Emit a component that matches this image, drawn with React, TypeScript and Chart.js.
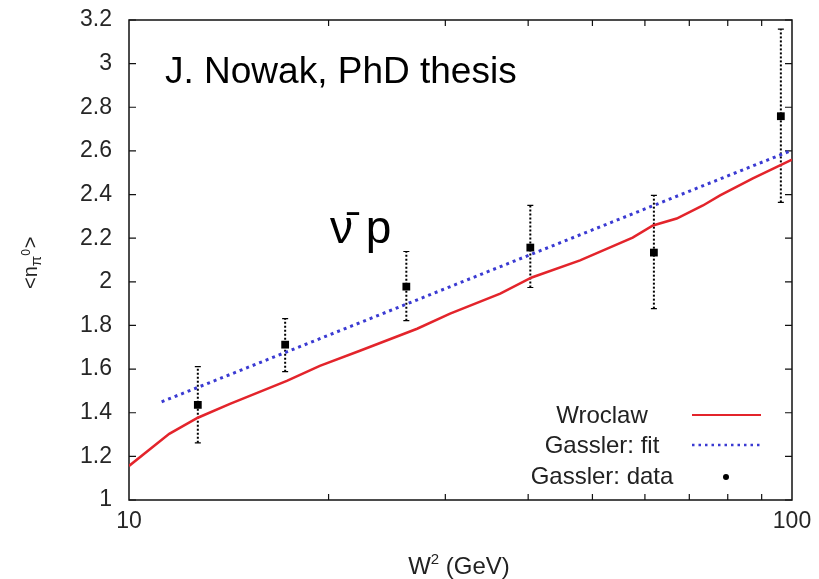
import React, { useEffect, useRef } from "react";
import { Chart, registerables } from "chart.js";
Chart.register(...registerables);

// Wroclaw model curve
const wroclawX = [10, 11.5, 12.7, 14.2, 17.3, 19.4, 22.3, 27.2, 30.5, 36.3, 40.5, 47.9, 57.5, 61.7, 67.0, 73.4, 77.9, 87.3, 100];
const wroclawY = [1.156, 1.303, 1.377, 1.441, 1.546, 1.615, 1.684, 1.785, 1.854, 1.946, 2.02, 2.098, 2.203, 2.258, 2.29, 2.35, 2.396, 2.474, 2.56];

// Gassler fit (straight in log x)
const fitX = [11.2, 100];
const fitY = [1.45, 2.603];

// Gassler data with error bars
const dataX = [12.7, 17.2, 26.2, 40.3, 61.9, 96.2];
const dataY = [1.436, 1.712, 1.978, 2.157, 2.134, 2.759];
const dataLow = [1.262, 1.588, 1.822, 1.974, 1.877, 2.364];
const dataHigh = [1.611, 1.831, 2.139, 2.35, 2.396, 3.158];

const xTickLabels = [10, 100];
const yMin = 1;
const yMax = 3.2;
const yStep = 0.2;

const legendLabels = ["Wroclaw", "Gassler: fit", "Gassler: data"];
const titleText = "J. Nowak, PhD thesis";
const reactionText = "\u03BD\u0304 p";

const FONT = "'Liberation Sans', Arial, Helvetica, sans-serif";
const RED = "#e3242b";
const BLUE = "#3a3ad2";

export default function App() {
  const ref = useRef<HTMLCanvasElement>(null);
  useEffect(() => {
    const canvas = ref.current!;
    const decor = {
      id: "decor",
      beforeDatasetsDraw(chart: any) {
        const ctx = chart.ctx;
        const { left, right, top, bottom } = chart.chartArea;
        const xs = chart.scales.x;
        const ys = chart.scales.y;
        ctx.save();
        // frame
        ctx.strokeStyle = "#111";
        ctx.lineWidth = 1.5;
        ctx.strokeRect(left, top, right - left, bottom - top);
        // y ticks inward (both sides)
        ctx.lineWidth = 1.2;
        for (let v = yMin; v <= yMax + 1e-9; v += yStep) {
          const py = ys.getPixelForValue(v);
          ctx.beginPath();
          ctx.moveTo(left, py);
          ctx.lineTo(left + 7, py);
          ctx.moveTo(right, py);
          ctx.lineTo(right - 7, py);
          ctx.stroke();
        }
        // x minor ticks
        for (let v = 20; v <= 90; v += 10) {
          const px = xs.getPixelForValue(v);
          ctx.beginPath();
          ctx.moveTo(px, bottom);
          ctx.lineTo(px, bottom - 6);
          ctx.moveTo(px, top);
          ctx.lineTo(px, top + 6);
          ctx.stroke();
        }
        // error bars
        ctx.strokeStyle = "#000";
        ctx.lineWidth = 2;
        ctx.setLineDash([2, 2]);
        for (let i = 0; i < dataX.length; i++) {
          const px = xs.getPixelForValue(dataX[i]);
          const pl = ys.getPixelForValue(dataLow[i]);
          const ph = ys.getPixelForValue(dataHigh[i]);
          ctx.beginPath();
          ctx.moveTo(px, pl);
          ctx.lineTo(px, ph);
          ctx.stroke();
        }
        ctx.setLineDash([]);
        ctx.lineWidth = 1.2;
        for (let i = 0; i < dataX.length; i++) {
          const px = xs.getPixelForValue(dataX[i]);
          const pl = ys.getPixelForValue(dataLow[i]);
          const ph = ys.getPixelForValue(dataHigh[i]);
          ctx.beginPath();
          ctx.moveTo(px - 3, pl);
          ctx.lineTo(px + 3, pl);
          ctx.moveTo(px - 3, ph);
          ctx.lineTo(px + 3, ph);
          ctx.stroke();
        }
        ctx.restore();
      },
      afterDraw(chart: any) {
        const ctx = chart.ctx;
        ctx.save();
        ctx.fillStyle = "#000";
        // title
        ctx.font = `37px ${FONT}`;
        ctx.textAlign = "left";
        ctx.textBaseline = "alphabetic";
        ctx.fillText(titleText, 165, 83);
        // reaction label
        ctx.font = `46px ${FONT}`;
        ctx.fillText(reactionText, 330, 243);
        // legend
        ctx.font = `24px ${FONT}`;
        ctx.fillStyle = "#222";
        ctx.textAlign = "center";
        const rows = [423, 453, 484];
        legendLabels.forEach((t, i) => ctx.fillText(t, 602, rows[i]));
        ctx.strokeStyle = RED;
        ctx.lineWidth = 2.2;
        ctx.beginPath();
        ctx.moveTo(692, 415);
        ctx.lineTo(761, 415);
        ctx.stroke();
        ctx.strokeStyle = BLUE;
        ctx.lineWidth = 2.5;
        ctx.setLineDash([2.5, 4]);
        ctx.beginPath();
        ctx.moveTo(692, 445);
        ctx.lineTo(761, 445);
        ctx.stroke();
        ctx.setLineDash([]);
        ctx.fillStyle = "#000";
        ctx.beginPath();
        ctx.arc(726, 477, 3, 0, Math.PI * 2);
        ctx.fill();
        // x axis title
        ctx.fillStyle = "#222";
        ctx.textAlign = "left";
        ctx.font = `24px ${FONT}`;
        const wW = ctx.measureText("W").width;
        ctx.font = `15px ${FONT}`;
        const w2 = ctx.measureText("2").width;
        ctx.font = `24px ${FONT}`;
        const wRest = ctx.measureText(" (GeV)").width;
        const total = wW + w2 + wRest;
        let sx = 459 - total / 2;
        ctx.fillText("W", sx, 574);
        sx += wW;
        ctx.font = `15px ${FONT}`;
        ctx.fillText("2", sx, 564);
        sx += w2;
        ctx.font = `24px ${FONT}`;
        ctx.fillText(" (GeV)", sx, 574);
        // y axis title
        ctx.translate(37, 289);
        ctx.rotate(-Math.PI / 2);
        ctx.font = `20px ${FONT}`;
        let lx = 0;
        ctx.fillText("<n", lx, 0);
        lx += ctx.measureText("<n").width;
        ctx.font = `15px ${FONT}`;
        ctx.fillText("\u03C0", lx, 4);
        const pw = ctx.measureText("\u03C0").width;
        ctx.font = `12px ${FONT}`;
        ctx.fillText("0", lx + pw, -7);
        lx += pw + ctx.measureText("0").width + 1;
        ctx.font = `20px ${FONT}`;
        ctx.fillText(">", lx, 0);
        ctx.restore();
      },
    };

    const chart = new Chart(canvas, {
      type: "scatter",
      data: {
        datasets: [
          {
            label: legendLabels[0],
            data: wroclawX.map((x, i) => ({ x, y: wroclawY[i] })),
            showLine: true,
            borderColor: RED,
            borderWidth: 2.5,
            pointRadius: 0,
            tension: 0,
          },
          {
            label: legendLabels[1],
            data: fitX.map((x, i) => ({ x, y: fitY[i] })),
            showLine: true,
            borderColor: BLUE,
            borderWidth: 3,
            borderDash: [3, 4],
            pointRadius: 0,
          },
          {
            label: legendLabels[2],
            data: dataX.map((x, i) => ({ x, y: dataY[i] })),
            showLine: false,
            pointStyle: "rect",
            pointRadius: 5.5,
            backgroundColor: "#000",
            borderColor: "#000",
            borderWidth: 0,
          },
        ],
      },
      options: {
        responsive: false,
        animation: false,
        events: [],
        layout: { padding: { left: 0, right: 27, top: 20, bottom: 0 } },
        plugins: { legend: { display: false }, tooltip: { enabled: false }, title: { display: false } },
        scales: {
          x: {
            type: "logarithmic",
            min: 10,
            max: 100,
            grid: { display: false, drawTicks: false },
            border: { display: false },
            ticks: {
              autoSkip: false,
              maxRotation: 0,
              padding: 8,
              color: "#262626",
              font: { family: FONT, size: 23 },
              callback: (v: any) => (xTickLabels.includes(Number(v)) ? String(v) : ""),
            },
            afterFit: (s: any) => {
              s.height = 79;
              s.paddingLeft = 0;
              s.paddingRight = 0;
            },
          },
          y: {
            type: "linear",
            min: yMin,
            max: yMax,
            grid: { display: false, drawTicks: false },
            border: { display: false },
            ticks: {
              stepSize: yStep,
              padding: 17,
              color: "#262626",
              font: { family: FONT, size: 23 },
              callback: (v: any) => String(Number(Number(v).toFixed(1))),
            },
            afterFit: (s: any) => {
              s.width = 129;
              s.paddingTop = 0;
              s.paddingBottom = 0;
            },
          },
        },
      },
      plugins: [decor],
    });
    return () => chart.destroy();
  }, []);
  return (
    <div style={{ position: "fixed", left: 0, top: 0, width: 819, height: 579, background: "#fff" }}>
      <canvas ref={ref} width={819} height={579} />
    </div>
  );
}
